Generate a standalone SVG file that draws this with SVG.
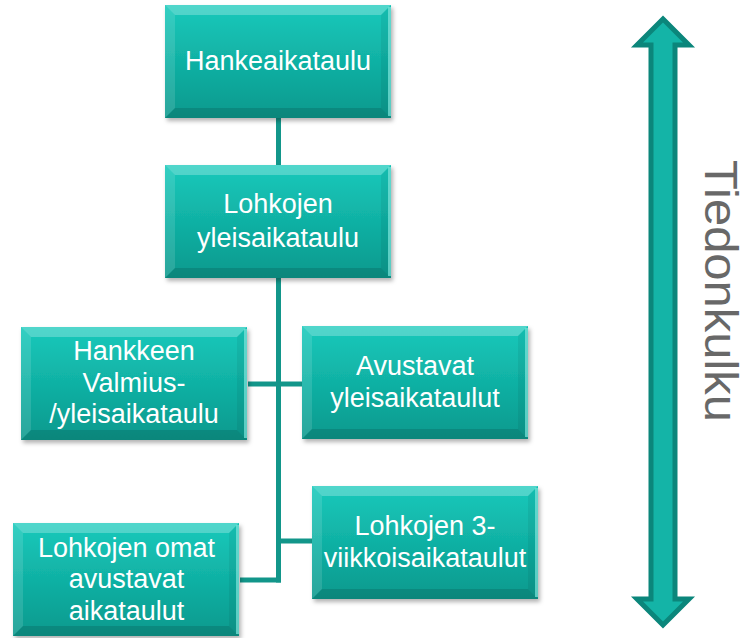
<svg xmlns="http://www.w3.org/2000/svg" xmlns:xlink="http://www.w3.org/1999/xlink" width="747" height="638" viewBox="0 0 747 638">
  <style>
    .lbl { font-family: "Liberation Sans", Arial, sans-serif; font-size: 27px; fill: #ffffff; text-anchor: middle; }
    .side { font-family: "Liberation Sans", Arial, sans-serif; font-size: 46px; fill: #686868; }
    .conn { stroke: #12968a; stroke-width: 5; fill: none; stroke-linecap: butt; }
  </style>
  <defs>
    <linearGradient id="boxFill" x1="0" y1="0" x2="0" y2="1">
      <stop offset="0" stop-color="#18c9bb"/>
      <stop offset="1" stop-color="#09998d"/>
    </linearGradient>
    <filter id="shadow" x="-10%" y="-10%" width="125%" height="130%">
      <feDropShadow dx="2" dy="3" stdDeviation="2" flood-color="#000" flood-opacity="0.3"/>
    </filter>
    <g id="box">
      <rect x="0" y="0" width="226" height="113" fill="url(#boxFill)" filter="url(#shadow)"/>
      <polygon points="0,0 226,0 216,10 10,10" fill="#ffffff" fill-opacity="0.25"/>
      <polygon points="0,0 10,10 10,103 0,113" fill="#ffffff" fill-opacity="0.12"/>
      <polygon points="226,0 226,113 216,103 216,10" fill="#000000" fill-opacity="0.06"/>
      <polygon points="0,113 10,103 216,103 226,113" fill="#000000" fill-opacity="0.12"/>
      <rect x="223" y="2" width="3" height="109" fill="#7fe6dc" fill-opacity="0.7"/>
    </g>
  </defs>

  <g id="connectors">
    <line class="conn" x1="278.5" y1="118" x2="278.5" y2="165"/>
    <line class="conn" x1="278.5" y1="278" x2="278.5" y2="582.5"/>
    <line class="conn" x1="248" y1="384" x2="302" y2="384"/>
    <line class="conn" x1="278.5" y1="541" x2="312" y2="541"/>
    <line class="conn" x1="240" y1="580" x2="281" y2="580"/>
  </g>

  <g id="node-hankeaikataulu">
    <use xlink:href="#box" x="165" y="5"/>
    <text class="lbl" x="278" y="70">Hankeaikataulu</text>
  </g>

  <g id="node-lohkojen-yleisaikataulu">
    <use xlink:href="#box" x="165" y="165"/>
    <text class="lbl" x="278" y="213">Lohkojen</text>
    <text class="lbl" x="278" y="247">yleisaikataulu</text>
  </g>

  <g id="node-hankkeen-valmius">
    <use xlink:href="#box" x="21" y="327"/>
    <text class="lbl" x="134" y="360">Hankkeen</text>
    <text class="lbl" x="134" y="392">Valmius-</text>
    <text class="lbl" x="134" y="423">/yleisaikataulu</text>
  </g>

  <g id="node-avustavat">
    <use xlink:href="#box" x="302" y="326"/>
    <text class="lbl" x="415" y="375">Avustavat</text>
    <text class="lbl" x="415" y="407">yleisaikataulut</text>
  </g>

  <g id="node-3-viikko">
    <use xlink:href="#box" x="312" y="486"/>
    <text class="lbl" x="425" y="535">Lohkojen 3-</text>
    <text class="lbl" x="425" y="567">viikkoisaikataulut</text>
  </g>

  <g id="node-lohkojen-omat">
    <use xlink:href="#box" x="13" y="523"/>
    <text class="lbl" x="126.5" y="557">Lohkojen omat</text>
    <text class="lbl" x="126.5" y="588">avustavat</text>
    <text class="lbl" x="126.5" y="620">aikataulut</text>
  </g>

  <g id="arrow-tiedonkulku">
    <polygon points="663,19 689,45 675,45 675,599 689,599 663,625 637,599 651,599 651,45 637,45" fill="#14b4a7" stroke="#0b867b" stroke-width="5" stroke-linejoin="miter"/>
    <text class="side" transform="translate(705,160) rotate(90)" textLength="262" lengthAdjust="spacingAndGlyphs">Tiedonkulku</text>
  </g>
</svg>
